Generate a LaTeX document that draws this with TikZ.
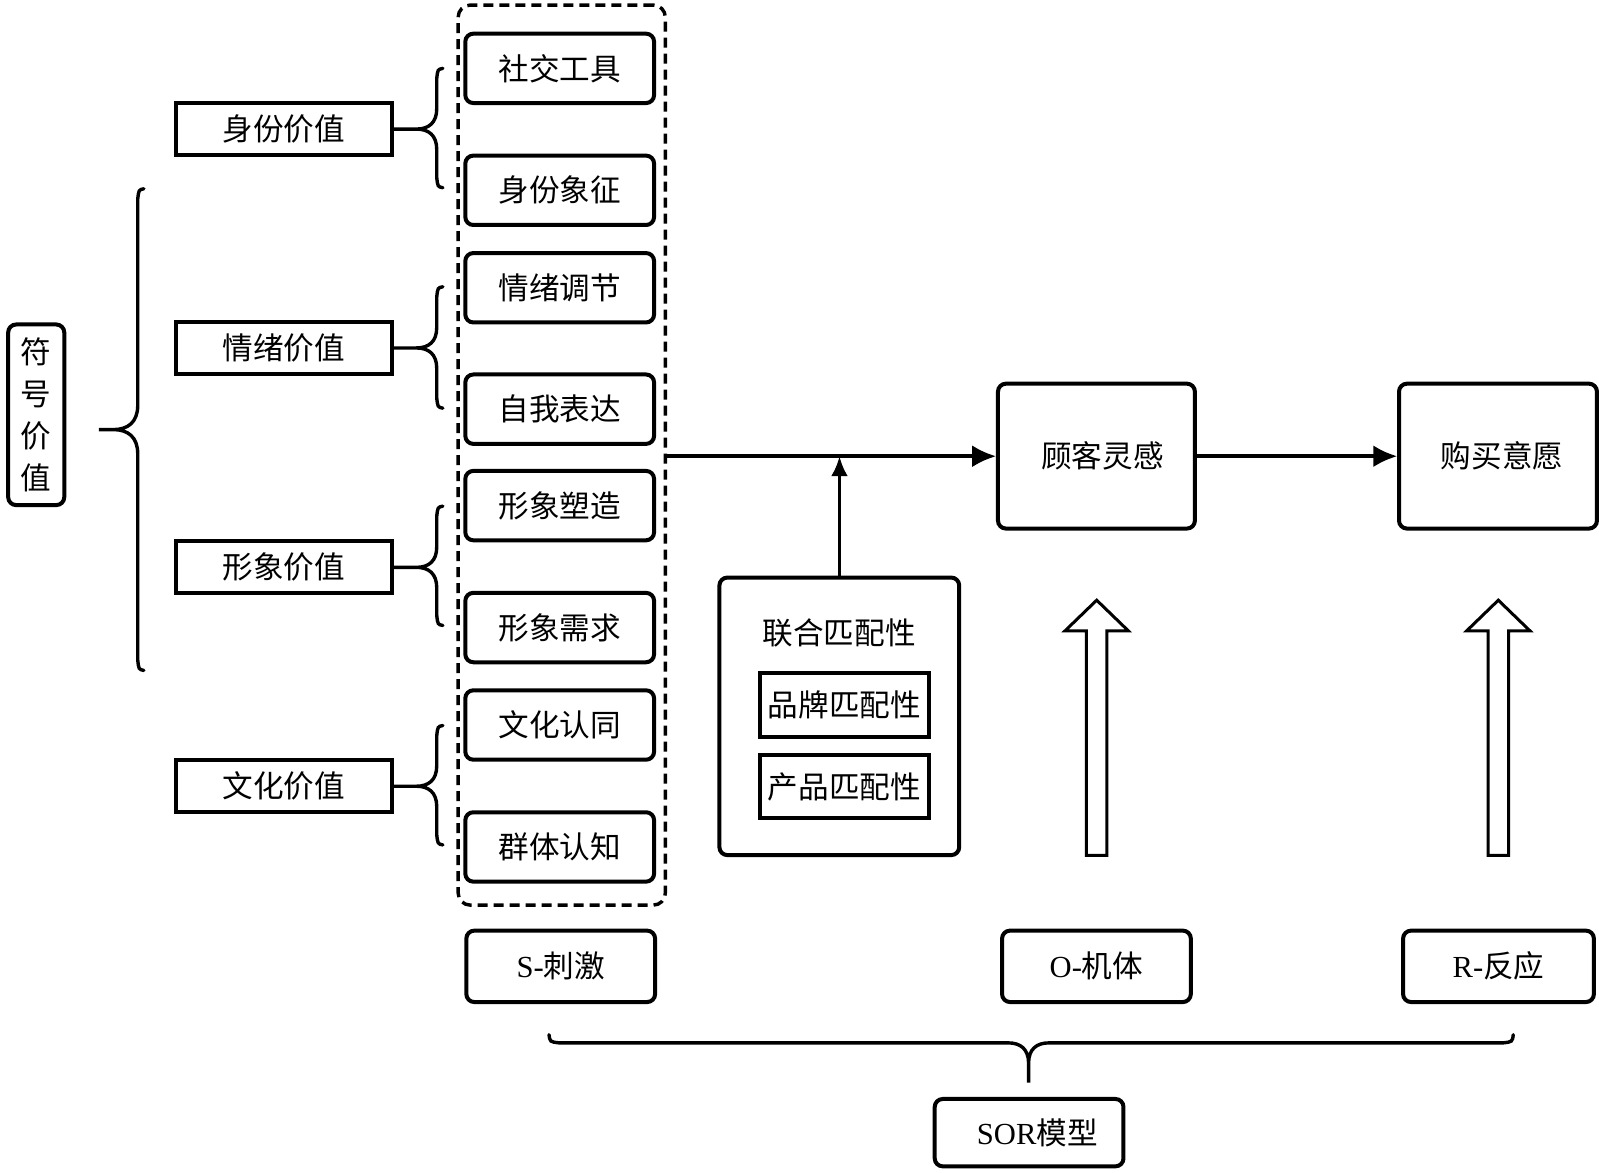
\documentclass[tikz,border=0pt]{standalone}
\usepackage{fontspec}
\setmainfont{Liberation Serif}
\newfontfamily\cjk{Noto Sans CJK SC}
\usetikzlibrary{arrows.meta}
\newcommand{\bracel}[6]{% spine x, top y, bottom y, tip x, centre y, curl
\draw[brc] (#1+6,#2) .. controls (#1+1,#2+1) .. (#1,#2+10) -- (#1,#5-#6)
  .. controls (#1,#5-0.3*#6) and (#1-0.4*#6,#5) .. (#1-#6,#5) -- (#4,#5) -- (#1-#6,#5)
  .. controls (#1-0.4*#6,#5) and (#1,#5+0.3*#6) .. (#1,#5+#6) -- (#1,#3-10)
  .. controls (#1+1,#3-1) .. (#1+6,#3);}
\begin{document}
\begin{tikzpicture}[x=0.5pt,y=-0.5pt,scale=1.0204,transform shape,
  lbl/.style={font=\fontsize{15}{18}\selectfont\cjk},
  rbox/.style={draw, line width=2pt, rounded corners=4pt, inner sep=0pt, align=center, lbl},
  sbox/.style={draw, line width=2pt, inner sep=0pt, align=center, lbl},
  latin/.style={font=\fontsize{15}{18}\selectfont\rmfamily},
  brc/.style={line width=1.7pt, line cap=round},
  arr/.style={line width=1.8pt, -{Latex[length=12pt,width=11pt]}},
  arrv/.style={line width=1.8pt, -{Latex[length=10pt,width=8.5pt]}},
  hollow/.style={line width=1.5pt, line join=miter, fill=white},
  grp/.style={draw, line width=1.7pt, dash pattern=on 5pt off 3pt, rounded corners=6pt, inner sep=0pt}]
\useasboundingbox (0,0) rectangle (1567,1149.5);

% left column
\node[rbox, minimum width=27.5pt, minimum height=88.5pt, font=\fontsize{15}{20.5}\selectfont\cjk] (fh) at (35.5,406.5) {符\\号\\价\\值};
\node[sbox, minimum width=106pt, minimum height=25.5pt] (v1) at (278,126.5) {身份价值};
\node[sbox, minimum width=106pt, minimum height=25.5pt] (v2) at (278,341) {情绪价值};
\node[sbox, minimum width=106pt, minimum height=25.5pt] (v3) at (278,556) {形象价值};
\node[sbox, minimum width=106pt, minimum height=25.5pt] (v4) at (278,770.5) {文化价值};

% braces
\bracel{135}{185}{657}{97}{421}{24}
\bracel{428}{67}{184}{386}{126.5}{20}
\bracel{428}{281}{400}{386}{341}{20}
\bracel{428}{496}{613}{386}{556}{20}
\bracel{428}{711}{828}{386}{770.5}{20}

% stimulus group
\node[grp, minimum width=101.5pt, minimum height=441pt] (sg) at (550.5,446) {};
\node[rbox, minimum width=92.5pt, minimum height=34pt] (s1) at (548.5,67) {社交工具};
\node[rbox, minimum width=92.5pt, minimum height=34pt] (s2) at (548.5,186.5) {身份象征};
\node[rbox, minimum width=92.5pt, minimum height=34pt] (s3) at (548.5,282) {情绪调节};
\node[rbox, minimum width=92.5pt, minimum height=34pt] (s4) at (548.5,401) {自我表达};
\node[rbox, minimum width=92.5pt, minimum height=34pt] (s5) at (548.5,495.5) {形象塑造};
\node[rbox, minimum width=92.5pt, minimum height=34pt] (s6) at (548.5,615) {形象需求};
\node[rbox, minimum width=92.5pt, minimum height=34pt] (s7) at (548.5,710.5) {文化认同};
\node[rbox, minimum width=92.5pt, minimum height=34pt] (s8) at (548.5,830) {群体认知};

% organism / response
\node[rbox, minimum width=96.5pt, minimum height=71pt] (gk) at (1074.5,447) {\hspace*{6pt}顾客灵感};
\node[rbox, minimum width=97pt, minimum height=71pt] (gm) at (1468,447) {\hspace*{4pt}购买意愿};

% match box
\node[rbox, minimum width=117.5pt, minimum height=136pt] (lh) at (822.5,702) {};
\node[lbl] (lht) at (822.5,620) {联合匹配性};
\node[sbox, minimum width=82.5pt, minimum height=31pt] (pp) at (827.5,691) {品牌匹配性};
\node[sbox, minimum width=82.5pt, minimum height=31pt] (cp) at (827.5,771) {产品匹配性};

% arrows
\draw[arr] (sg.east |- gk.west) -- (gk.west);
\draw[arr] (gk.east) -- (gm.west);
\draw[arrv] (lh.north) -- (lh.north |- gk.west);

% hollow arrows
\coordinate (h1) at (1074.5,838);
\coordinate (h2) at (1468,838);
\foreach \h in {h1,h2}{
  \draw[hollow] (\h) ++(-10,0) -- ++(0,-220) -- ++(-21,0) -- ++(31,-30) -- ++(31,30) -- ++(-21,0) -- ++(0,220) -- cycle;
}

% SOR labels
\node[rbox, latin, minimum width=92.5pt, minimum height=35pt] (so) at (549.5,947) {S-{\cjk 刺激}};
\node[rbox, latin, minimum width=92.5pt, minimum height=35pt] (oo) at (1074.5,947) {O-{\cjk 机体}};
\node[rbox, latin, minimum width=93.5pt, minimum height=35pt] (ro) at (1468.5,947) {R-{\cjk 反应}};

% bottom brace
\draw[brc] (538,1014) .. controls (539,1021) .. (548,1022) -- (988,1022)
  .. controls (1000,1022) and (1008,1028) .. (1008,1042) -- (1008,1061) -- (1008,1042)
  .. controls (1008,1028) and (1016,1022) .. (1028,1022) -- (1473,1022)
  .. controls (1482,1021) .. (1483,1014);

\node[rbox, latin, minimum width=92.5pt, minimum height=33pt] (sor) at (1008.5,1110) {\hspace*{8pt}SOR{\cjk 模型}};
\end{tikzpicture}
\end{document}
